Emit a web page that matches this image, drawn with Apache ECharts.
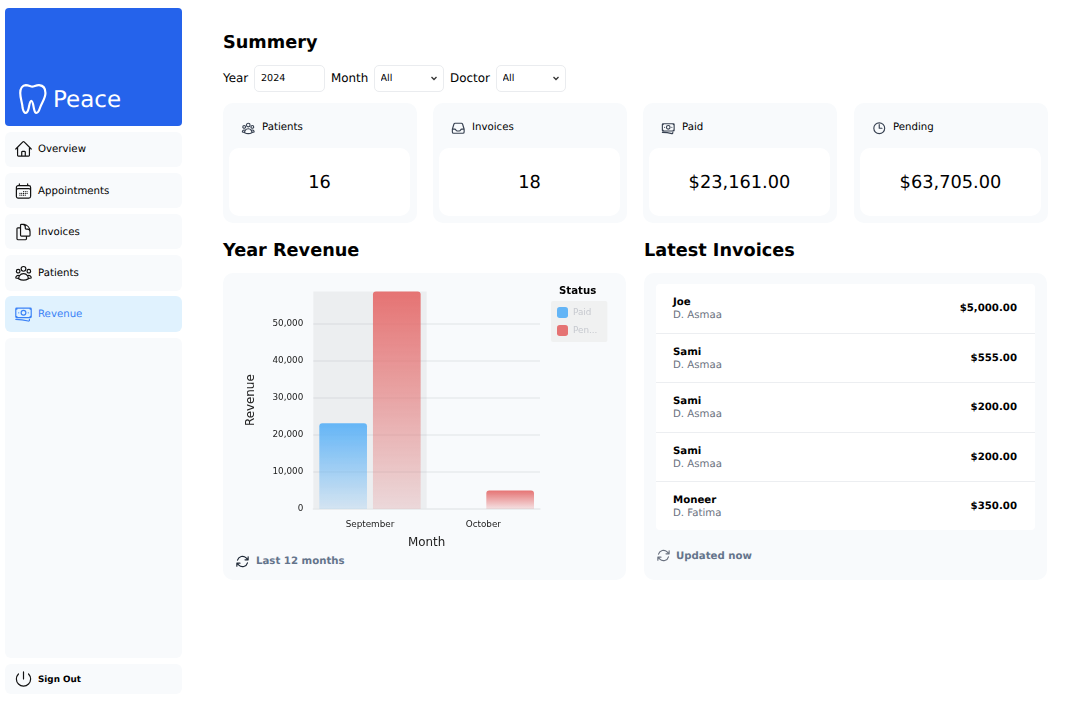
<!DOCTYPE html>
<html><head><meta charset="utf-8">
<script src="https://cdn.jsdelivr.net/npm/echarts@6/dist/echarts.min.js"></script>
<style>
html,body{margin:0;padding:0;background:#fff;width:1080px;height:705px;overflow:hidden;font-family:"DejaVu Sans",sans-serif;color:#000;text-rendering:geometricPrecision}
.a{position:absolute;box-sizing:border-box}
.nav{left:5px;width:177px;background:#f8fafc;border-radius:6px;font-size:10.2px;line-height:1}
.nav svg{position:absolute;left:8.500px;top:50%;transform:translateY(-50%);width:19px;height:19px}
.nav span{position:absolute;left:33px;top:50%;transform:translateY(calc(-50% + 1.500px));white-space:nowrap}
.card{background:#f8fafc;border-radius:10px}
.inner{background:#fff;border-radius:10px}
.lab{font-size:11.900px;white-space:nowrap;line-height:16px;top:70px}
.ctl{top:64.500px;height:27px;width:70.500px;border:1px solid #eaecef;border-radius:5px;background-color:#fff;font:9.600px "DejaVu Sans",sans-serif;padding:0 6px;color:#000;outline:none;text-rendering:geometricPrecision}
select.ctl{appearance:none;-webkit-appearance:none;background-repeat:no-repeat;background-position:right 4px center;background-size:10px 10px;background-image:url("data:image/svg+xml,%3Csvg xmlns='http://www.w3.org/2000/svg' viewBox='0 0 10 10'%3E%3Cpath d='M2.500 4l2.500 2.500L7.500 4' fill='none' stroke='%23333' stroke-width='1.300'/%3E%3C/svg%3E")}
h2{position:absolute;margin:0;font-size:17.700px;font-weight:700;line-height:24px;white-space:nowrap}
.stat{font-size:10.200px;white-space:nowrap;line-height:14px}
.val{font-size:17.800px;text-align:center;line-height:24px;white-space:nowrap}
.row{left:656px;width:379px;background:#fff}
.row b{position:absolute;left:17px;top:12.300px;font-size:10.200px;line-height:13px}
.row i{position:absolute;left:17px;top:25px;font-size:10.200px;line-height:13px;font-style:normal;color:#6b7280}
.row u{position:absolute;right:18px;top:18.300px;font-size:10.200px;line-height:13px;font-weight:700;text-decoration:none}
.foot{font-size:10.200px;font-weight:700;color:#64748b;white-space:nowrap;line-height:14px}
svg{fill:none;stroke-width:1.500;stroke-linecap:round;stroke-linejoin:round}
</style></head><body>
<div id="root"></div>
<div class="a" id="chart" style="left:223px;top:273px;width:403px;height:285px"></div>
<script>
// ---- chart data ----
const months = ['September', 'October'];
const paid = [23161, 0];
const pending = [58705, 5000];
const legendTitle = 'Status';
const xName = 'Month';
const yName = 'Revenue';

// ---- page text ----
const navLabels = ['Overview', 'Appointments', 'Invoices', 'Patients', 'Revenue'];
const statLabels = ['Patients', 'Invoices', 'Paid', 'Pending'];
const statValues = ['16', '18', '$23,161.00', '$63,705.00'];
const invoiceNames = ['Joe', 'Sami', 'Sami', 'Sami', 'Moneer'];
const invoiceDoctors = ['D. Asmaa', 'D. Asmaa', 'D. Asmaa', 'D. Asmaa', 'D. Fatima'];
const invoiceAmounts = ['$5,000.00', '$555.00', '$200.00', '$200.00', '$350.00'];

const I = {
 home:'M2.25 12l8.954-8.955c.44-.439 1.152-.439 1.591 0L21.75 12M4.5 9.75v10.125c0 .621.504 1.125 1.125 1.125H9.75v-4.875c0-.621.504-1.125 1.125-1.125h2.25c.621 0 1.125.504 1.125 1.125V21h4.125c.621 0 1.125-.504 1.125-1.125V9.75M8.25 21h8.25',
 cal:'M6.75 3v2.25M17.25 3v2.25M3 18.75V7.5a2.25 2.25 0 012.25-2.25h13.5A2.25 2.25 0 0121 7.5v11.25m-18 0A2.25 2.25 0 005.25 21h13.5A2.25 2.25 0 0021 18.75m-18 0v-7.5A2.25 2.25 0 015.25 9h13.5A2.25 2.25 0 0121 11.25v7.5m-9-6h.008v.008H12v-.008zM12 15h.008v.008H12V15zm0 2.25h.008v.008H12v-.008zM9.75 15h.008v.008H9.75V15zm0 2.25h.008v.008H9.75v-.008zM7.5 15h.008v.008H7.5V15zm0 2.25h.008v.008H7.5v-.008zm6.75-4.5h.008v.008h-.008v-.008zm0 2.25h.008v.008h-.008V15zm0 2.25h.008v.008h-.008v-.008zm2.25-4.5h.008v.008H16.5v-.008zm0 2.25h.008v.008H16.5V15z',
 doc:'M15.75 17.25v3.375c0 .621-.504 1.125-1.125 1.125h-9.75a1.125 1.125 0 01-1.125-1.125V7.875c0-.621.504-1.125 1.125-1.125H6.75a9.06 9.06 0 011.5.124m7.5 10.376h3.375c.621 0 1.125-.504 1.125-1.125V11.25c0-4.46-3.243-8.161-7.5-8.876a9.06 9.06 0 00-1.5-.124H9.375c-.621 0-1.125.504-1.125 1.125v3.5m7.5 10.375H9.375a1.125 1.125 0 01-1.125-1.125v-9.25m12 6.625v-1.875a3.375 3.375 0 00-3.375-3.375h-1.5a1.125 1.125 0 01-1.125-1.125v-1.5a3.375 3.375 0 00-3.375-3.375H9.75',
 users:'M18 18.72a9.094 9.094 0 003.741-.479 3 3 0 00-4.682-2.72m.94 3.198l.001.031c0 .225-.012.447-.037.666A11.944 11.944 0 0112 21c-2.17 0-4.207-.576-5.963-1.584A6.062 6.062 0 016 18.719m12 0a5.971 5.971 0 00-.941-3.197m0 0A5.995 5.995 0 0012 12.75a5.995 5.995 0 00-5.058 2.772m0 0a3 3 0 00-4.681 2.72 8.986 8.986 0 003.74.477m.94-3.197a5.971 5.971 0 00-.94 3.197M15 6.75a3 3 0 11-6 0 3 3 0 016 0zm6 3a2.25 2.25 0 11-4.5 0 2.25 2.25 0 014.5 0zm-13.5 0a2.25 2.25 0 11-4.5 0 2.25 2.25 0 014.5 0z',
 cash:'M2.25 18.75a60.07 60.07 0 0115.797 2.101c.727.198 1.453-.342 1.453-1.096V18.75M3.75 4.5v.75A.75.75 0 013 6h-.75m0 0v-.375c0-.621.504-1.125 1.125-1.125H20.25M2.25 6v9m18-10.5v.75c0 .414.336.75.75.75h.75m-1.5-1.5h.375c.621 0 1.125.504 1.125 1.125v9.75c0 .621-.504 1.125-1.125 1.125h-.375m1.5-1.5H21a.75.75 0 00-.75.75v.75m0 0H3.75m0 0h-.375a1.125 1.125 0 01-1.125-1.125V15m1.5 1.5v-.75A.75.75 0 003 15h-.75M15 10.5a3 3 0 11-6 0 3 3 0 016 0zm3 0h.008v.008H18V10.5zm-12 0h.008v.008H6V10.5z',
 inbox:'M2.25 13.5h3.86a2.25 2.25 0 012.012 1.244l.256.512a2.25 2.25 0 002.013 1.244h3.218a2.25 2.25 0 002.013-1.244l.256-.512a2.25 2.25 0 012.013-1.244h3.859m-19.5.338V18a2.25 2.25 0 002.25 2.25h15A2.25 2.25 0 0021.75 18v-4.162c0-.224-.034-.447-.1-.661L19.24 5.338a2.25 2.25 0 00-2.15-1.588H6.911a2.25 2.25 0 00-2.15 1.588L2.35 13.177a2.25 2.25 0 00-.1.661z',
 clock:'M12 6v6h4.5m4.5 0a9 9 0 11-18 0 9 9 0 0118 0z',
 sync:'M16.023 9.348h4.992v-.001M2.985 19.644v-4.992m0 0h4.992m-4.993 0l3.181 3.183a8.25 8.25 0 0013.803-3.7M4.031 9.865a8.25 8.25 0 0113.803-3.7l3.181 3.182m0-4.991v4.99',
 power:'M5.636 5.636a9 9 0 1012.728 0M12 3v9',
 tooth:'M7 2.2c3 0 4.6 1.5 6.5 1.5S17.5 2 20.5 2.2c4 .4 6.4 3.6 6.4 8 0 5.4-3.6 9.4-5.6 15.2-.8 2.6-2 5-3.7 5-1.6 0-2-2.4-2.5-5-.6-3-1.2-7.2-2.6-7.2s-1.9 4-2.6 7.2c-.6 2.8-1.4 5-3.2 5-1.6 0-2.4-2.4-3-5C3.4 20 1.3 15.600 1.300 10.200c0-4.600 2.300-7.800 5.700-8z'
};
const svg = (p, style, color) => `<svg class="a" viewBox="0 0 24 24" style="stroke-width:1.900;${style}" stroke="${color}"><path d="${p}"/></svg>`;
let h = '';
h += `<div class="a" style="left:5px;top:7.500px;width:177px;height:118px;background:#2563eb;border-radius:4px"></div>`;
h += `<svg class="a" viewBox="0 0 28.500 33.500" style="left:18px;top:83px;width:30px;height:33px;stroke-width:2.200" stroke="#fff"><path d="${I.tooth}"/></svg>`;
h += `<div class="a" style="left:53px;top:84px;font-size:23px;line-height:32px;color:#fff">Peace</div>`;
const navTops = [131.7, 172.9, 214.1, 255.3, 296.4], navIcons = [I.home, I.cal, I.doc, I.users, I.cash];
navLabels.forEach((t, i) => {
  const active = i === 4, c = active ? '#3b82f6' : '#111';
  h += `<div class="a nav" style="top:${navTops[i]}px;height:35.400px;${active ? 'background:#e0f2fe;color:#3b82f6' : ''}"><svg viewBox="0 0 24 24" stroke="${c}"><path d="${navIcons[i]}"/></svg><span>${t}</span></div>`;
});
h += `<div class="a nav" style="top:337.500px;height:320.500px"></div>`;
h += `<div class="a nav" style="top:664px;height:30px;font-weight:700;font-size:8.800px"><svg viewBox="0 0 24 24" stroke="#111"><path d="${I.power}"/></svg><span>Sign Out</span></div>`;
h += `<h2 style="left:223px;top:30.500px">Summery</h2>`;
h += `<div class="a lab" style="left:223px">Year</div><input class="a ctl" style="left:254px" value="2024">`;
h += `<div class="a lab" style="left:331px">Month</div><select class="a ctl" style="left:373.500px"><option>All</option></select>`;
h += `<div class="a lab" style="left:450px">Doctor</div><select class="a ctl" style="left:495.500px"><option>All</option></select>`;
const cardX = [223, 433, 643, 854], statIcons = [I.users, I.inbox, I.cash, I.clock];
statLabels.forEach((t, i) => {
  const x = cardX[i];
  h += `<div class="a card" style="left:${x}px;top:103px;width:194px;height:120px"></div>`;
  h += `<div class="a inner" style="left:${x + 6}px;top:148px;width:181px;height:68px"></div>`;
  h += svg(statIcons[i], `left:${x + 18}px;top:121px;width:14.500px;height:14.500px`, '#374151');
  h += `<div class="a stat" style="left:${x + 39}px;top:121px">${t}</div>`;
  h += `<div class="a val" style="left:${x + 6}px;top:171px;width:181px">${statValues[i]}</div>`;
});
h += `<h2 style="left:223px;top:239px">Year Revenue</h2><h2 style="left:644px;top:239px">Latest Invoices</h2>`;
h += `<div class="a card" style="left:223px;top:273px;width:403px;height:307px"></div>`;
h += `<div class="a card" style="left:644px;top:273px;width:403px;height:307px"></div>`;
h += svg(I.sync, 'left:235px;top:553.500px;width:15px;height:15px', '#1f2937');
h += `<div class="a foot" style="left:256px;top:555px">Last 12 months</div>`;
const rowTops = [284, 334, 383, 433, 482];
invoiceNames.forEach((n, i) => {
  h += `<div class="a row" style="top:${rowTops[i]}px;height:${i < 4 ? 49 : 48}px;${i === 0 ? 'border-radius:4px 4px 0 0;' : ''}${i === 4 ? 'border-radius:0 0 4px 4px;' : ''}"><b>${n}</b><i>${invoiceDoctors[i]}</i><u>${invoiceAmounts[i]}</u></div>`;
});
for (let i = 1; i < 5; i++) h += `<div class="a" style="left:656px;width:379px;top:${rowTops[i] - 1}px;height:1px;background:#eceef1"></div>`;
h += svg(I.sync, 'left:655.500px;top:547.500px;width:15px;height:15px', '#6b7280');
h += `<div class="a foot" style="left:676px;top:549.700px">Updated now</div>`;
document.getElementById('root').innerHTML = h;

const grad = (top, bottom) => ({type:'linear',x:0,y:0,x2:0,y2:1,colorStops:[{offset:0,color:top},{offset:1,color:bottom}]});
const chart = echarts.init(document.getElementById('chart'), null, {renderer:'canvas'});
const blue = '#64b5f6', red = '#e57373';
chart.setOption({
  animation:false,
  textStyle:{fontFamily:'"DejaVu Sans",sans-serif'},
  title:{text:legendTitle,left:336,top:13.500,padding:0,textStyle:{fontSize:10.200,fontWeight:700,color:'#000'}},
  legend:{
    orient:'vertical',left:328,top:28,padding:[6,10,6,6],itemWidth:11,itemHeight:11,itemGap:7,
    backgroundColor:'#f0f1f1',borderRadius:2,icon:'roundRect',
    textStyle:{fontSize:8.800,color:'#c6c9cf',width:29,overflow:'truncate',ellipsis:'...'},
    data:[{name:'Paid',itemStyle:{color:blue}},{name:'Pending',itemStyle:{color:red}}],
    selectedMode:false
  },
  grid:{left:90.300,top:18.400,width:226.700,height:217.600,outerBoundsMode:'none'},
  xAxis:{
    type:'category',data:months,name:xName,nameLocation:'middle',nameGap:28,
    nameTextStyle:{fontSize:11.900,color:'#222'},
    axisTick:{show:false},axisLine:{lineStyle:{color:'#e9ebee',width:1.500}},
    axisLabel:{fontSize:8.800,color:'#222',margin:11},
    axisPointer:{show:true,type:'shadow',value:months[0],status:'show',label:{show:false},triggerTooltip:false,z:0,shadowStyle:{color:'rgba(150,150,150,0.11)'}}
  },
  yAxis:{
    type:'value',min:0,max:'dataMax',interval:10000,name:yName,nameLocation:'middle',nameGap:56,nameRotate:90,
    nameTextStyle:{fontSize:11.900,color:'#222'},
    axisLine:{show:false},axisTick:{show:false},
    axisLabel:{fontSize:8.800,color:'#222',margin:10,padding:[3,0,0,0],showMaxLabel:false,formatter:v=>v.toLocaleString('en-US')},
    splitLine:{showMaxLine:false,lineStyle:{color:'#e9ebee',width:1.500}}
  },
  series:[
    {name:'Paid',type:'bar',z:5,data:paid,barWidth:47.700,barGap:'12.5%',itemStyle:{borderRadius:[3,3,0,0],color:grad(blue,'rgba(100,181,246,0.18)')}},
    {name:'Pending',type:'bar',z:5,data:pending,barWidth:47.700,itemStyle:{borderRadius:[3,3,0,0],color:grad(red,'rgba(229,115,115,0.18)')}}
  ]
});
</script>
</body></html>
